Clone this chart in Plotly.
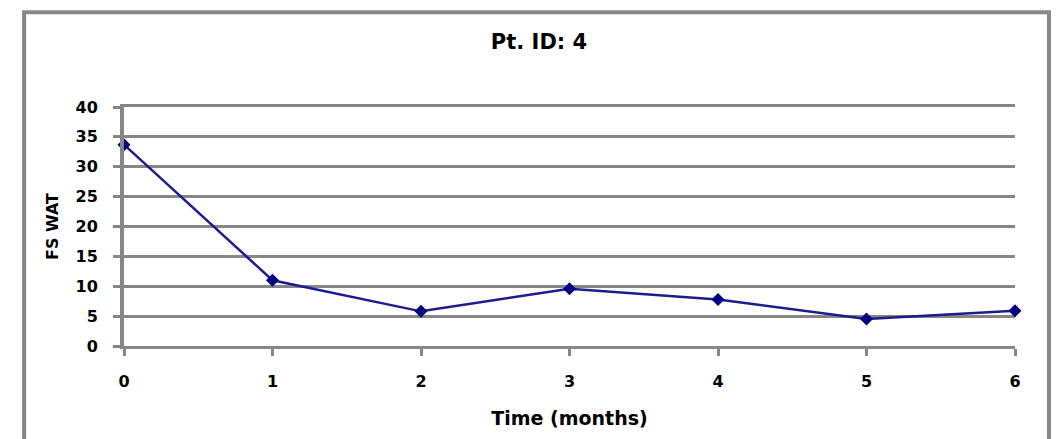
import plotly.graph_objects as go

months = [0, 1, 2, 3, 4, 5, 6]
fs_wat = [33.7, 11.0, 5.8, 9.6, 7.8, 4.5, 5.9]
y_ticks = [0, 5, 10, 15, 20, 25, 30, 35, 40]
title_text = "Pt. ID: 4"
x_title = "Time (months)"
y_title = "FS WAT"

FONT = "DejaVu Sans"
GRAY = "#868686"

fig = go.Figure()
fig.add_trace(go.Scatter(
    x=months, y=fs_wat, mode="lines+markers",
    line=dict(color="#1c1c8c", width=2.5),
    marker=dict(symbol="diamond", size=10, color="#000080"),
    showlegend=False, cliponaxis=False,
))

L, R, T, B = 123.5, 1061 - 1015.5, 107, 91
pw = 1061 - L - R
ph = 439 - T - B

fig.update_layout(
    width=1061, height=439,
    margin=dict(l=L, r=R, t=T, b=B, pad=0),
    paper_bgcolor="white", plot_bgcolor="white",
    font=dict(family=FONT, color="black"),
    title=dict(text="<b>" + title_text + "</b>", x=539 / 1061, xanchor="center",
               y=1 - 42 / 439, yanchor="middle", font=dict(size=21, family=FONT)),
    xaxis=dict(
        range=[0, 6], tickvals=months, ticktext=[str(m) for m in months],
        showgrid=False, zeroline=False,
        showline=True, linecolor=GRAY, linewidth=3, mirror=True,
        ticks="outside", ticklen=7, tickwidth=3, tickcolor=GRAY,
        ticklabelstandoff=12,
        tickfont=dict(size=16, family=FONT, weight="bold"),
        title=dict(text="<b>" + x_title + "</b>", font=dict(size=19, family=FONT), standoff=22),
    ),
    yaxis=dict(
        range=[0, 40], tickvals=y_ticks, ticktext=[str(v) for v in y_ticks],
        showgrid=True, gridcolor=GRAY, gridwidth=3,
        zeroline=False,
        showline=True, linecolor=GRAY, linewidth=4,
        ticks="outside", ticklen=7, tickwidth=3, tickcolor=GRAY,
        ticklabelstandoff=12,
        tickfont=dict(size=16, family=FONT, weight="bold"),
        title=dict(text="<b>" + y_title + "</b>", font=dict(size=16, family=FONT), standoff=14),
    ),
)

# outer chart border
def px_to_paper_x(px):
    return (px - L) / pw

def px_to_paper_y(py):
    return (439 - B - py) / ph

fig.add_shape(type="rect", xref="paper", yref="paper",
              x0=px_to_paper_x(23.5), x1=px_to_paper_x(1049.5),
              y0=px_to_paper_y(460), y1=px_to_paper_y(11.5),
              line=dict(color=GRAY, width=4), fillcolor="rgba(0,0,0,0)", layer="below")

fig.write_html("out.html")
